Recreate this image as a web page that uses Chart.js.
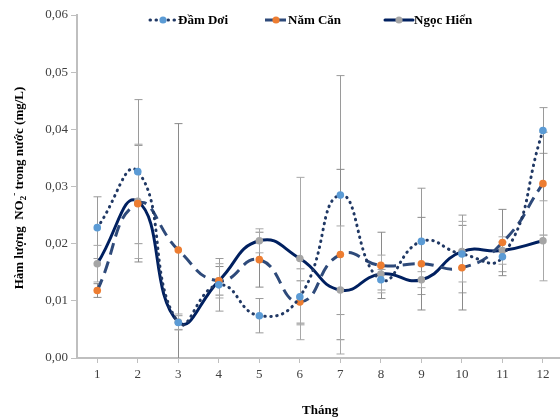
<!DOCTYPE html>
<html>
<head>
<meta charset="utf-8">
<script src="https://cdn.jsdelivr.net/npm/chart.js@4/dist/chart.umd.min.js"></script>
<style>
  html, body { margin: 0; padding: 0; background: #fff; overflow: hidden; }
  #wrap { width: 560px; height: 420px; position: relative; overflow: hidden; }
  #c { position: absolute; left: 0; top: 0; }
</style>
</head>
<body>
<div id="wrap"><canvas id="c" width="567" height="420"></canvas></div>
<script>
// Monthly NO2- concentration (mg/L) at three sites, with standard deviations
const months = ['1','2','3','4','5','6','7','8','9','10','11','12'];
const seriesNames = ['Đầm Dơi', 'Năm Căn', 'Ngọc Hiển'];

const damDoi   = [0.0228, 0.0326, 0.0062, 0.0128, 0.0074, 0.0107, 0.0285, 0.0137, 0.0204, 0.0182, 0.0177, 0.0398];
const namCan   = [0.0118, 0.0270, 0.0189, 0.0135, 0.0172, 0.0098, 0.0181, 0.0162, 0.0165, 0.0158, 0.0202, 0.0305];
const ngocHien = [0.0165, 0.0274, 0.0063, 0.0135, 0.0205, 0.0174, 0.0119, 0.0147, 0.0137, 0.0186, 0.0188, 0.0205];

const damDoiSd   = [0.0054, 0.0126, 0.0012, 0.0046, 0.0030, 0.0049, 0.0209, 0.0018, 0.0093, 0.0068, 0.0026, 0.0040];
const namCanSd   = [0.0012, 0.0102, 0.0221, 0.0025, 0.0048, 0.0037, 0.0149, 0.0058, 0.0081, 0.0074, 0.0058, 0.0090];
const ngocHienSd = [0.0032, 0.0100, 0.0014, 0.0030, 0.0021, 0.0142, 0.0112, 0.0033, 0.0014, 0.0053, 0.0024, 0.0070];

const yTicks = [0, 0.01, 0.02, 0.03, 0.04, 0.05, 0.06];

const SERIF = '"Liberation Serif", "Times New Roman", serif';

const styles = [
  { line: '#203864', dash: [0.5, 5.5], cap: 'round', width: 3, marker: '#5B9BD5', err: '#9a9a9a' },
  { line: '#2E4A7A', dash: [12, 7],    cap: 'butt',  width: 3, marker: '#ED7D31', err: '#8a8a8a' },
  { line: '#002060', dash: [],         cap: 'round', width: 3, marker: '#A5A5A5', err: '#a8a8a8' }
];
const values = [damDoi, namCan, ngocHien];
const sds = [damDoiSd, namCanSd, ngocHienSd];

const datasets = values.map((v, i) => ({
  label: seriesNames[i],
  data: v,
  borderColor: styles[i].line,
  borderWidth: styles[i].width,
  borderDash: styles[i].dash,
  borderCapStyle: styles[i].cap,
  backgroundColor: styles[i].marker,
  pointBackgroundColor: styles[i].marker,
  pointBorderWidth: 0,
  pointRadius: 3.8,
  pointHoverRadius: 3.8,
  tension: 0.5,
  fill: false
}));

// Symmetric error bars, drawn under the lines
const errorBars = {
  id: 'errorBars',
  beforeDatasetsDraw(chart) {
    const { ctx, chartArea: a, scales: { x, y } } = chart;
    ctx.save();
    ctx.beginPath();
    ctx.rect(a.left, a.top - 1, a.right - a.left, a.bottom - a.top + 1);
    ctx.clip();
    ctx.lineWidth = 1;
    sds.forEach((sd, si) => {
      ctx.strokeStyle = styles[si].err;
      sd.forEach((e, i) => {
        const px = Math.round(x.getPixelForValue(i)) + 0.5;
        const top = y.getPixelForValue(values[si][i] + e);
        const bot = y.getPixelForValue(values[si][i] - e);
        ctx.beginPath();
        ctx.moveTo(px, top); ctx.lineTo(px, bot);
        ctx.moveTo(px - 4, top); ctx.lineTo(px + 4, top);
        ctx.moveTo(px - 4, bot); ctx.lineTo(px + 4, bot);
        ctx.stroke();
      });
    });
    ctx.restore();
  }
};

// Legend row inside the plot and the rotated y-axis title with sub/superscript
const decorations = {
  id: 'decorations',
  afterDraw(chart) {
    const ctx = chart.ctx;
    ctx.save();
    // legend
    const items = [
      { x0: 150, x1: 176, tx: 178 },
      { x0: 265, x1: 287, tx: 288 },
      { x0: 385, x1: 413, tx: 414 }
    ];
    const ly = 20;
    items.forEach((it, i) => {
      const s = styles[i];
      ctx.strokeStyle = s.line;
      ctx.lineWidth = s.width;
      ctx.lineCap = s.cap;
      ctx.setLineDash(i === 1 ? [8, 5] : s.dash);
      ctx.beginPath();
      ctx.moveTo(it.x0, ly); ctx.lineTo(it.x1, ly);
      ctx.stroke();
      ctx.setLineDash([]);
      ctx.fillStyle = s.marker;
      ctx.beginPath();
      ctx.arc((it.x0 + it.x1) / 2, ly, 3.6, 0, Math.PI * 2);
      ctx.fill();
      ctx.fillStyle = '#000';
      ctx.font = 'bold 13px ' + SERIF;
      ctx.textAlign = 'left';
      ctx.textBaseline = 'middle';
      ctx.fillText(seriesNames[i], it.tx, ly + 1);
    });

    // y-axis title
    const parts = [
      { t: 'Hàm lượng  NO', size: 13, dy: 0 },
      { t: '2', size: 9, dy: 4 },
      { t: '-', size: 9, dy: -5 },
      { t: ' trong nước (mg/L)', size: 13, dy: 0 }
    ];
    let total = 0;
    parts.forEach(p => { ctx.font = 'bold ' + p.size + 'px ' + SERIF; p.w = ctx.measureText(p.t).width; total += p.w; });
    ctx.translate(20, 188);
    ctx.rotate(-Math.PI / 2);
    ctx.fillStyle = '#000';
    ctx.textAlign = 'left';
    ctx.textBaseline = 'middle';
    let cx = -total / 2;
    parts.forEach(p => {
      ctx.font = 'bold ' + p.size + 'px ' + SERIF;
      ctx.fillText(p.t, cx, p.dy);
      cx += p.w;
    });
    ctx.restore();
  }
};

new Chart(document.getElementById('c'), {
  type: 'line',
  data: { labels: months, datasets },
  plugins: [errorBars, decorations],
  options: {
    responsive: false,
    animation: false,
    devicePixelRatio: 1,
    layout: { padding: { top: 15, right: 0, bottom: 0, left: 0 } },
    plugins: { legend: { display: false }, tooltip: { enabled: false } },
    scales: {
      x: {
        type: 'category',
        offset: true,
        grid: { display: true, drawOnChartArea: false, drawTicks: true, tickLength: 5, offset: false, color: '#bfbfbf' },
        border: { color: '#bfbfbf', width: 2 },
        ticks: { color: '#404040', font: { family: SERIF, size: 13 }, padding: 4, maxRotation: 0 },
        title: { display: true, text: 'Tháng', color: '#000', font: { family: SERIF, size: 13, weight: 'bold' }, padding: { top: 0, bottom: 2 } },
        afterFit(scale) { scale.height = 62; }
      },
      y: {
        min: 0, max: 0.06,
        afterBuildTicks(scale) { scale.ticks = yTicks.map(v => ({ value: v })); },
        grid: { display: true, drawOnChartArea: false, drawTicks: true, tickLength: 6, color: '#bfbfbf' },
        border: { color: '#bfbfbf', width: 2 },
        ticks: {
          color: '#404040', font: { family: SERIF, size: 13 }, padding: 3,
          callback: v => v.toFixed(2).replace('.', ',')
        },
        afterFit(scale) { scale.width = 77; }
      }
    }
  }
});
</script>
</body>
</html>
